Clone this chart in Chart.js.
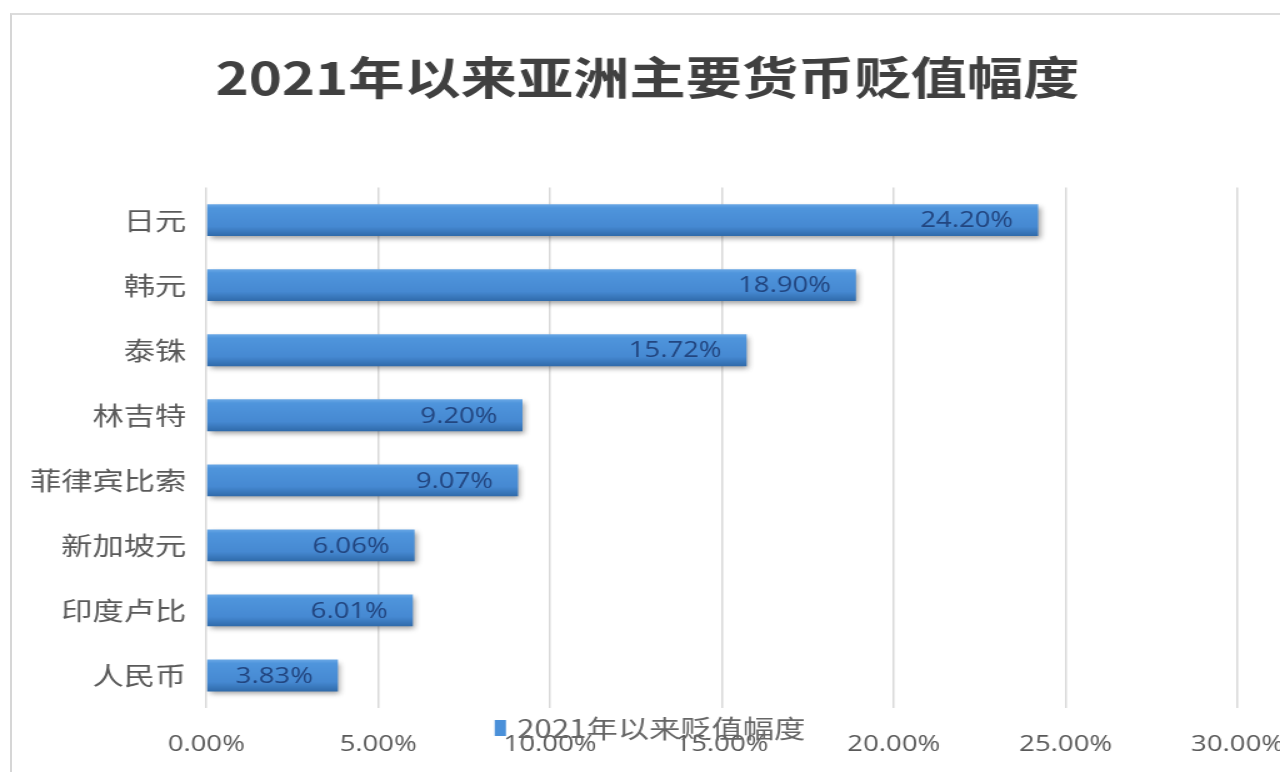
<!DOCTYPE html>
<html>
<head>
<meta charset="utf-8">
<script src="https://cdn.jsdelivr.net/npm/chart.js@4.4.0/dist/chart.umd.min.js"></script>
<style>
  html, body { margin: 0; padding: 0; background: #ffffff; overflow: hidden; }
  #page { position: relative; width: 1280px; height: 772px; overflow: hidden; background: #fff; }
  #frame { position: absolute; left: 10px; top: 13px; width: 1300px; height: 800px;
           border-left: 2px solid #d6d6d6; border-top: 2px solid #dcdcdc; box-sizing: border-box; }
  #wrap { position: absolute; left: 0; top: 0; width: 1028px; height: 772px;
          transform: scaleX(1.25); transform-origin: 0 0; }
  canvas { display: block; }
</style>
</head>
<body>
<div id="page">
  <div id="frame"></div>
  <div id="wrap"><canvas id="c" width="1028" height="772"></canvas></div>
</div>
<script>
const chartTitle = '2021年以来亚洲主要货币贬值幅度';
const seriesName = '2021年以来贬值幅度';
const categories = ['日元', '韩元', '泰铢', '林吉特', '菲律宾比索', '新加坡元', '印度卢比', '人民币'];
const depreciation = [24.20, 18.90, 15.72, 9.20, 9.07, 6.06, 6.01, 3.83];
const xTickValues = [0, 5, 10, 15, 20, 25, 30];

const BAR_PCT = 0.49;

function barGradient(ctx) {
  const chart = ctx.chart;
  const ys = chart.scales && chart.scales.y;
  if (!ys || !chart.chartArea || ctx.type !== 'data') return '#4a90d9';
  const yc = ys.getPixelForValue(ctx.dataIndex);
  const h = (ys.height / categories.length) * BAR_PCT;
  const g = chart.ctx.createLinearGradient(0, yc - h / 2, 0, yc + h / 2);
  g.addColorStop(0, '#6aa8e6');
  g.addColorStop(0.12, '#4f95dc');
  g.addColorStop(0.7, '#4689d2');
  g.addColorStop(1, '#2f6aaa');
  return g;
}

const shadowPlugin = {
  id: 'barShadow',
  beforeDatasetDraw(chart) {
    const c = chart.ctx;
    c.save();
    c.shadowColor = 'rgba(40,40,40,0.45)';
    c.shadowBlur = 5;
    c.shadowOffsetX = 2;
    c.shadowOffsetY = 3;
  },
  afterDatasetDraw(chart) {
    chart.ctx.restore();
  }
};

const valueLabelPlugin = {
  id: 'valueLabels',
  afterDatasetsDraw(chart) {
    const c = chart.ctx;
    const meta = chart.getDatasetMeta(0);
    const data = chart.data.datasets[0].data;
    c.save();
    c.font = '22px "Open Sans", "Noto Sans", sans-serif';
    c.fillStyle = '#22457f';
    c.textAlign = 'right';
    c.textBaseline = 'middle';
    meta.data.forEach((bar, i) => {
      c.fillText(data[i].toFixed(2) + '%', bar.x - 20, bar.y + 1);
    });
    c.restore();
  }
};

const legendPlugin = {
  id: 'overlapLegend',
  afterDraw(chart) {
    const c = chart.ctx;
    const ds = chart.data.datasets[0];
    const xs = chart.scales.x;
    c.save();
    c.font = '25px "Noto Sans CJK SC", sans-serif';
    const tw = c.measureText(ds.label).width;
    const boxW = 9, boxH = 16, gap = 9;
    const total = boxW + gap + tw;
    const cx = chart.width / 2 + 6;
    const left = cx - total / 2;
    const yc = xs.top + 20;
    c.fillStyle = '#4a90d9';
    c.fillRect(left, yc - boxH / 2, boxW, boxH);
    c.fillStyle = '#666666';
    c.textAlign = 'left';
    c.textBaseline = 'middle';
    c.fillText(ds.label, left + boxW + gap, yc);
    c.restore();
  }
};

new Chart(document.getElementById('c'), {
  type: 'bar',
  data: {
    labels: categories,
    datasets: [{
      label: seriesName,
      data: depreciation,
      backgroundColor: barGradient,
      borderWidth: 0,
      barPercentage: BAR_PCT,
      categoryPercentage: 1.0
    }]
  },
  options: {
    indexAxis: 'y',
    responsive: false,
    animation: false,
    devicePixelRatio: 1,
    layout: { padding: { left: 8, right: 0, top: 14, bottom: 14 } },
    plugins: {
      legend: { display: false },
      tooltip: { enabled: false },
      title: {
        display: true,
        text: chartTitle,
        color: '#404040',
        font: { family: '"Noto Sans CJK SC", sans-serif', size: 45, weight: 'bold' },
        padding: { top: 37, bottom: 82.6 }
      }
    },
    scales: {
      x: {
        min: 0,
        max: 30,
        afterBuildTicks(axis) { axis.ticks = xTickValues.map(v => ({ value: v })); },
        afterFit(scale) { scale.height = 50; scale.paddingRight = 38; },
        ticks: {
          padding: 24,
          color: '#595959',
          font: { family: '"Open Sans", "Noto Sans", sans-serif', size: 22 },
          callback: v => Number(v).toFixed(2) + '%'
        },
        grid: { color: '#d9d9d9', lineWidth: 1.5, drawTicks: false },
        border: { display: false }
      },
      y: {
        ticks: {
          padding: 16,
          color: '#5a5a5a',
          font: { family: '"Noto Sans CJK SC", sans-serif', size: 25 }
        },
        grid: { display: false, drawTicks: false },
        border: { display: false }
      }
    }
  },
  plugins: [shadowPlugin, valueLabelPlugin, legendPlugin]
});
</script>
</body>
</html>
